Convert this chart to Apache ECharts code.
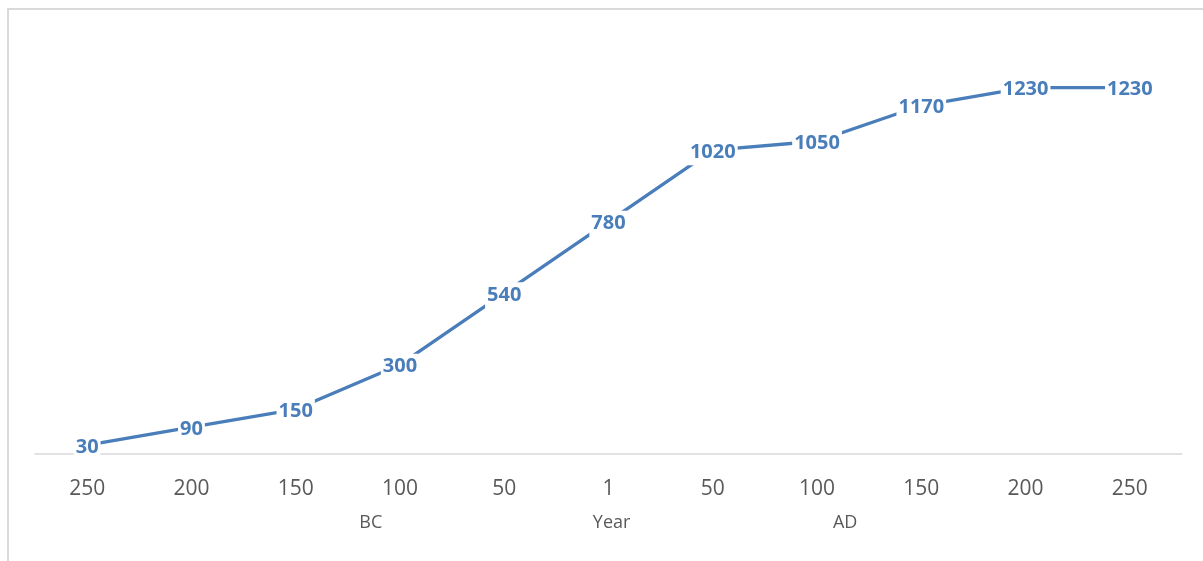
<!DOCTYPE html>
<html>
<head>
<meta charset="utf-8">
<style>
  html, body { margin: 0; padding: 0; background: #ffffff; }
  #chart { width: 1203px; height: 561px; }
</style>
<script src="https://cdn.jsdelivr.net/npm/echarts@6/dist/echarts.min.js"></script>
</head>
<body>
<div id="chart"></div>
<script>
// Year labels along the bottom axis (BC on the left, AD on the right)
const years = ['250', '200', '150', '100', '50', '1', '50', '100', '150', '200', '250'];
// Value at each year
const values = [30, 90, 150, 300, 540, 780, 1020, 1050, 1170, 1230, 1230];
// Era captions under the year labels, placed at a fractional category position
const eraCaptions = [
  { text: 'BC', at: 2.72 },
  { text: 'Year', at: 5.03 },
  { text: 'AD', at: 7.27 }
];

const blue = '#4a7ebb';
const grey = '#595959';

const chart = echarts.init(document.getElementById('chart'), null, { renderer: 'canvas' });

chart.setOption({
  animation: false,
  backgroundColor: '#ffffff',
  grid: { left: 35, right: 21, top: 37, bottom: 107 },
  xAxis: {
    type: 'category',
    data: years,
    boundaryGap: true,
    axisLine: { show: true, lineStyle: { color: '#d9d9d9', width: 1.5 } },
    axisTick: { show: false },
    axisLabel: {
      color: grey,
      fontFamily: 'Open Sans',
      fontSize: 21,
      margin: 25
    },
    splitLine: { show: false }
  },
  yAxis: {
    type: 'value',
    min: 0,
    max: 1400,
    show: false,
    splitLine: { show: false }
  },
  series: [{
    type: 'line',
    data: values,
    symbol: 'circle',
    symbolSize: 1,
    itemStyle: { color: blue },
    lineStyle: { color: blue, width: 3.3 },
    z: 5,
    label: {
      show: true,
      position: 'inside',
      offset: [0, 2],
      color: blue,
      fontFamily: 'Open Sans',
      fontWeight: 'bold',
      fontSize: 20,
      backgroundColor: '#ffffff',
      padding: [3, 2]
    }
  }]
});

// Pixel x of a fractional category position, interpolated between neighbours
function categoryX(pos) {
  const i = Math.floor(pos);
  const x0 = chart.convertToPixel({ xAxisIndex: 0 }, i);
  const x1 = chart.convertToPixel({ xAxisIndex: 0 }, i + 1);
  return x0 + (x1 - x0) * (pos - i);
}

// Outer frame and era captions
const captionY = 523;
chart.setOption({
  graphic: [
    {
      type: 'rect',
      shape: { x: 8, y: 9, width: 1300, height: 700 },
      style: { fill: 'none', stroke: '#d9d9d9', lineWidth: 2 },
      silent: true
    }
  ].concat(eraCaptions.map(function (c) {
    return {
      type: 'text',
      x: categoryX(c.at),
      y: captionY,
      style: {
        text: c.text,
        fill: grey,
        font: '18px "Open Sans"',
        textAlign: 'center',
        textVerticalAlign: 'middle'
      },
      silent: true
    };
  }))
});
</script>
</body>
</html>
